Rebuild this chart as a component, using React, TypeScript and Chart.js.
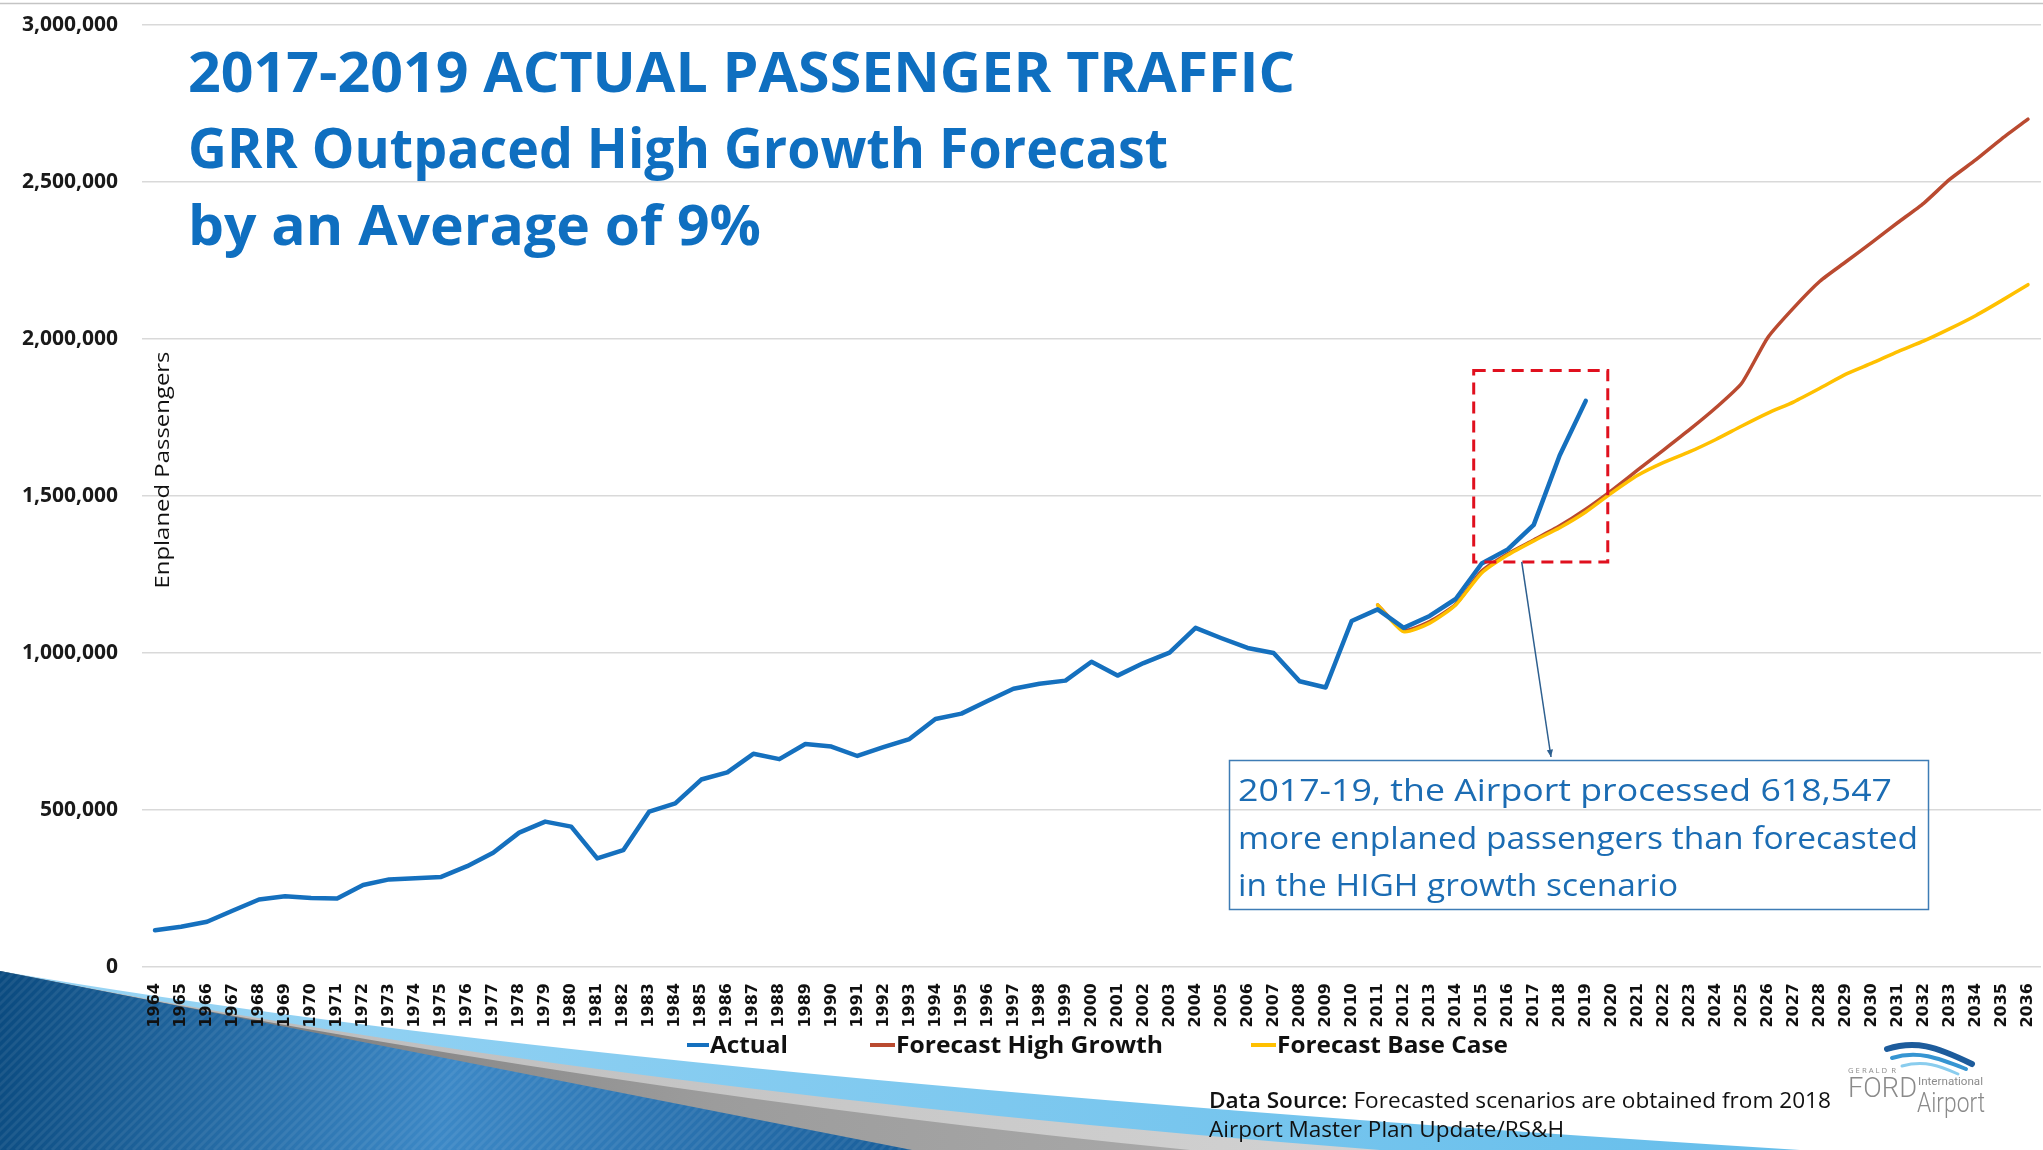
import React, { useEffect, useRef } from 'react';
import { Chart, registerables } from 'chart.js';

Chart.register(...registerables);

const YEARS = [
  '1964','1965','1966','1967','1968','1969','1970','1971','1972','1973',
  '1974','1975','1976','1977','1978','1979','1980','1981','1982','1983',
  '1984','1985','1986','1987','1988','1989','1990','1991','1992','1993',
  '1994','1995','1996','1997','1998','1999','2000','2001','2002','2003',
  '2004','2005','2006','2007','2008','2009','2010','2011','2012','2013',
  '2014','2015','2016','2017','2018','2019','2020','2021','2022','2023',
  '2024','2025','2026','2027','2028','2029','2030','2031','2032','2033',
  '2034','2035','2036',
];

// Actual enplanements 1964-2019
const ACTUAL = [
  117000, 128000, 144000, 180000, 215000, 225000, 220000, 218000, 261000, 279000,
  283000, 287000, 321000, 364000, 428000, 463000, 447000, 346000, 372000, 495000,
  521000, 597000, 620000, 679000, 662000, 710000, 702000, 672000, 700000, 726000,
  790000, 807000, 847000, 886000, 902000, 912000, 972000, 928000, 968000, 1001000,
  1080000, 1047000, 1016000, 1000000, 910000, 890000, 1102000, 1139000, 1080000, 1118000,
  1172000, 1285000, 1330000, 1408000, 1630000, 1803000,
];

const FORECAST_START = '2011';
// Forecast High Growth 2011-2036
const HIGH_GROWTH = [
  1153000, 1073000, 1100000, 1155000, 1261000, 1316000, 1360000, 1405000, 1458000, 1518000,
  1583000, 1647000, 1712000, 1781000, 1860000, 2005000, 2100000, 2184000, 2246000, 2308000,
  2371000, 2433000, 2509000, 2571000, 2638000, 2700000,
];
// Forecast Base Case 2011-2036
const BASE_CASE = [
  1153000, 1068000, 1095000, 1153000, 1255000, 1312000, 1357000, 1399000, 1449000, 1510000,
  1566000, 1607000, 1641000, 1680000, 1723000, 1764000, 1800000, 1843000, 1888000, 1923000,
  1960000, 1994000, 2033000, 2075000, 2123000, 2173000,
];

const Y_MIN = 0;
const Y_MAX = 3000000;
const Y_STEP = 500000;

const SERIES_LABELS = ['Actual', 'Forecast High Growth', 'Forecast Base Case'];
const SERIES_COLORS = ['#1570BE', '#BA4A30', '#FFC000'];

const TITLE_LINES = [
  '2017-2019 ACTUAL PASSENGER TRAFFIC',
  'GRR Outpaced High Growth Forecast',
  'by an Average of 9%',
];
const Y_TITLE = 'Enplaned Passengers';
const NOTE_LINES = [
  '2017-19, the Airport processed 618,547',
  'more enplaned passengers than forecasted',
  'in the HIGH growth scenario',
];
const SOURCE_BOLD = 'Data Source:';
const SOURCE_LINE1 = ' Forecasted scenarios are obtained from 2018';
const SOURCE_LINE2 = 'Airport Master Plan Update/RS&H';
const HIGHLIGHT_FROM = '2015';
const HIGHLIGHT_TO = '2020';
const HIGHLIGHT_TOP = 1900000;
const HIGHLIGHT_BOTTOM = 1290000;

function fitText(
  ctx: CanvasRenderingContext2D,
  text: string,
  x: number,
  y: number,
  width: number,
  font: string,
  color: string
) {
  ctx.save();
  ctx.font = font;
  ctx.fillStyle = color;
  ctx.textAlign = 'left';
  ctx.textBaseline = 'alphabetic';
  const w = ctx.measureText(text).width || 1;
  ctx.translate(x, y);
  ctx.scale(width / w, 1);
  ctx.fillText(text, 0, 0);
  ctx.restore();
}

const decorPlugin = {
  id: 'decor',
  beforeDraw(chart: any) {
    const ctx: CanvasRenderingContext2D = chart.ctx;
    const W = chart.width;
    const H = chart.height;
    ctx.save();
    ctx.fillStyle = '#ffffff';
    ctx.fillRect(0, 0, W, H);
    // slide top rule
    ctx.strokeStyle = '#C4C4C4';
    ctx.lineWidth = 1.5;
    ctx.beginPath();
    ctx.moveTo(0, 3.5);
    ctx.lineTo(W, 3.5);
    ctx.stroke();

    // decorative swoosh bands bottom-left
    const oy = 971;
    const curveBand = (cx: number, cy: number, xb: number, fill: any) => {
      ctx.beginPath();
      ctx.moveTo(0, oy);
      ctx.quadraticCurveTo(cx, cy, xb, H);
      ctx.lineTo(0, H);
      ctx.closePath();
      ctx.fillStyle = fill;
      ctx.fill();
    };
    const lb = ctx.createLinearGradient(0, 0, 1800, 0);
    lb.addColorStop(0, '#9AD5F4');
    lb.addColorStop(1, '#66BEEB');
    curveBand(600, 1075, 1800, lb);
    const lg = ctx.createLinearGradient(0, 0, 1380, 0);
    lg.addColorStop(0, '#B8B8B8');
    lg.addColorStop(1, '#D2D2D2');
    curveBand(600, 1090, 1380, lg);
    const gg = ctx.createLinearGradient(0, 0, 1190, 0);
    gg.addColorStop(0, '#6F6F6F');
    gg.addColorStop(0.6, '#9C9C9C');
    gg.addColorStop(1, '#A8A8A8');
    curveBand(600, 1092, 1190, gg);
    const bg = ctx.createLinearGradient(0, 1000, 900, 1150);
    bg.addColorStop(0, '#0B4B80');
    bg.addColorStop(0.5, '#3C88C6');
    bg.addColorStop(1, '#1A5F9B');
    curveBand(456, 1060, 912, bg);
    // subtle diagonal stripes on dark blue
    ctx.save();
    ctx.beginPath();
    ctx.moveTo(0, oy);
    ctx.quadraticCurveTo(456, 1060, 912, H);
    ctx.lineTo(0, H);
    ctx.closePath();
    ctx.clip();
    ctx.strokeStyle = 'rgba(255,255,255,0.07)';
    ctx.lineWidth = 3;
    for (let s = -200; s < 1100; s += 9) {
      ctx.beginPath();
      ctx.moveTo(s, H);
      ctx.lineTo(s + 200, H - 200);
      ctx.stroke();
    }
    ctx.restore();
    ctx.restore();
  },
  afterDatasetsDraw(chart: any) {
    const ctx: CanvasRenderingContext2D = chart.ctx;
    const xs = chart.scales.x;
    const ys = chart.scales.y;
    const left = xs.getPixelForValue(YEARS.indexOf(HIGHLIGHT_FROM)) - 8;
    const right = xs.getPixelForValue(YEARS.indexOf(HIGHLIGHT_TO)) - 4;
    const top = ys.getPixelForValue(HIGHLIGHT_TOP);
    const bottom = ys.getPixelForValue(HIGHLIGHT_BOTTOM);
    ctx.save();
    ctx.strokeStyle = '#E0101E';
    ctx.lineWidth = 3;
    ctx.setLineDash([12, 7]);
    ctx.strokeRect(left, top, right - left, bottom - top);
    ctx.restore();

    // leader line to note box
    const ax = xs.getPixelForValue(YEARS.indexOf('2016')) + 14;
    const ex = 1551;
    const ey = 757;
    ctx.save();
    ctx.strokeStyle = '#2D5F8F';
    ctx.lineWidth = 1.5;
    ctx.beginPath();
    ctx.moveTo(ax, bottom);
    ctx.lineTo(ex, ey);
    ctx.stroke();
    const ang = Math.atan2(ey - bottom, ex - ax);
    ctx.fillStyle = '#2D5F8F';
    ctx.beginPath();
    ctx.moveTo(ex, ey);
    ctx.lineTo(ex - 8 * Math.cos(ang - 0.4), ey - 8 * Math.sin(ang - 0.4));
    ctx.lineTo(ex - 8 * Math.cos(ang + 0.4), ey - 8 * Math.sin(ang + 0.4));
    ctx.closePath();
    ctx.fill();
    ctx.restore();
  },
  afterDraw(chart: any) {
    const ctx: CanvasRenderingContext2D = chart.ctx;
    // Title
    const titleColor = '#0F6FC0';
    const titleFont = 'bold 56px "Open Sans"';
    fitText(ctx, TITLE_LINES[0], 188, 92, 1107, titleFont, titleColor);
    fitText(ctx, TITLE_LINES[1], 188, 168, 980, titleFont, titleColor);
    fitText(ctx, TITLE_LINES[2], 188, 245, 573, titleFont, titleColor);

    // Y axis title (inside plot)
    ctx.save();
    ctx.translate(163, 470);
    ctx.rotate(-Math.PI / 2);
    ctx.font = '20px "Open Sans"';
    const tw = ctx.measureText(Y_TITLE).width;
    ctx.scale(237 / tw, 1);
    ctx.fillStyle = '#111111';
    ctx.textAlign = 'center';
    ctx.textBaseline = 'middle';
    ctx.fillText(Y_TITLE, 0, 0);
    ctx.restore();

    // Note box
    ctx.save();
    ctx.strokeStyle = '#3E7CB5';
    ctx.lineWidth = 1.5;
    ctx.strokeRect(1229.5, 760.5, 699, 149);
    ctx.restore();
    const noteFont = '31px "Open Sans"';
    const noteColor = '#1B6CB3';
    fitText(ctx, NOTE_LINES[0], 1238, 801, 654, noteFont, noteColor);
    fitText(ctx, NOTE_LINES[1], 1238, 849, 680, noteFont, noteColor);
    fitText(ctx, NOTE_LINES[2], 1238, 896, 440, noteFont, noteColor);

    // Legend
    const legendItems = [
      { m0: 687, m1: 709, t0: 710, tw: 78 },
      { m0: 870, m1: 895, t0: 896, tw: 267 },
      { m0: 1251, m1: 1276, t0: 1277, tw: 231 },
    ];
    legendItems.forEach((it, i) => {
      ctx.save();
      ctx.strokeStyle = SERIES_COLORS[i];
      ctx.lineWidth = 4;
      ctx.beginPath();
      ctx.moveTo(it.m0, 1045);
      ctx.lineTo(it.m1, 1045);
      ctx.stroke();
      ctx.restore();
      fitText(ctx, SERIES_LABELS[i], it.t0, 1053, it.tw, 'bold 23px "Open Sans"', '#111111');
    });

    // Data source
    ctx.save();
    ctx.font = '600 21px "Open Sans"';
    const bw = ctx.measureText(SOURCE_BOLD).width;
    ctx.font = '21px "Open Sans"';
    const rw = ctx.measureText(SOURCE_LINE1).width;
    const sx = 622 / (bw + rw);
    ctx.translate(1209, 1108);
    ctx.scale(sx, 1);
    ctx.fillStyle = '#111111';
    ctx.font = '600 21px "Open Sans"';
    ctx.fillText(SOURCE_BOLD, 0, 0);
    ctx.font = '21px "Open Sans"';
    ctx.fillText(SOURCE_LINE1, bw, 0);
    ctx.restore();
    fitText(ctx, SOURCE_LINE2, 1209, 1137, 355, '21px "Open Sans"', '#111111');

    // Logo
    ctx.save();
    const wave = (x0: number, y0: number, c1x: number, c1y: number, c2x: number, c2y: number, x1: number, y1: number, w: number, c: string) => {
      ctx.strokeStyle = c;
      ctx.lineWidth = w;
      ctx.lineCap = 'round';
      ctx.beginPath();
      ctx.moveTo(x0, y0);
      ctx.bezierCurveTo(c1x, c1y, c2x, c2y, x1, y1);
      ctx.stroke();
    };
    wave(1887, 1049, 1915, 1040, 1935, 1046, 1972, 1064, 6, '#1D5C9C');
    wave(1892, 1058, 1918, 1050, 1938, 1058, 1966, 1069, 4, '#3695D2');
    wave(1902, 1066, 1925, 1060, 1940, 1066, 1958, 1074, 3, '#8ACDEE');
    ctx.restore();
    fitText(ctx, 'G E R A L D  R', 1848, 1073, 48, '8px "Open Sans"', '#8C8C8C');
    fitText(ctx, 'FORD', 1848, 1097, 69, '300 27px "Roboto"', '#8A8A8A');
    fitText(ctx, 'International', 1918, 1085, 65, '10px "Roboto"', '#8C8C8C');
    fitText(ctx, 'Airport', 1917, 1112, 68, '300 27px "Roboto"', '#8A8A8A');
  },
};

export default function App() {
  const ref = useRef<HTMLCanvasElement | null>(null);

  useEffect(() => {
    if (!ref.current) return;
    const fStart = YEARS.indexOf(FORECAST_START);
    const actualData = YEARS.map((_, i) => (i < ACTUAL.length ? ACTUAL[i] : null));
    const highData = YEARS.map((_, i) => (i >= fStart ? HIGH_GROWTH[i - fStart] : null));
    const baseData = YEARS.map((_, i) => (i >= fStart ? BASE_CASE[i - fStart] : null));

    const chart = new Chart(ref.current, {
      type: 'line',
      data: {
        labels: YEARS,
        datasets: [
          {
            label: SERIES_LABELS[0],
            data: actualData,
            borderColor: SERIES_COLORS[0],
            borderWidth: 4.5,
            tension: 0,
            order: 0,
          },
          {
            label: SERIES_LABELS[1],
            data: highData,
            borderColor: SERIES_COLORS[1],
            borderWidth: 3.5,
            tension: 0.2,
            order: 2,
          },
          {
            label: SERIES_LABELS[2],
            data: baseData,
            borderColor: SERIES_COLORS[2],
            borderWidth: 3.5,
            tension: 0.2,
            order: 1,
          },
        ],
      },
      options: {
        animation: false,
        responsive: false,
        devicePixelRatio: 1,
        layout: { padding: { top: 25, right: 2, left: 0, bottom: 0 } },
        elements: {
          point: { radius: 0, hoverRadius: 0 },
          line: { borderCapStyle: 'round', borderJoinStyle: 'round', fill: false },
        },
        plugins: {
          legend: { display: false },
          tooltip: { enabled: false },
          title: { display: false },
        },
        scales: {
          x: {
            type: 'category',
            offset: true,
            grid: { display: false, drawTicks: false },
            border: { display: false },
            ticks: {
              autoSkip: false,
              maxRotation: 90,
              minRotation: 90,
              padding: 16,
              color: '#111111',
              font: { family: '"DejaVu Sans"', weight: 'bold', size: 16 },
            },
            afterFit: (s: any) => {
              s.height = 183;
              s.paddingLeft = 0;
              s.paddingRight = 0;
            },
          },
          y: {
            min: Y_MIN,
            max: Y_MAX,
            ticks: {
              stepSize: Y_STEP,
              padding: 24,
              color: '#1A1A1A',
              font: { family: '"Open Sans"', weight: 'bold', size: 21 },
              callback: (v: any) => Number(v).toLocaleString('en-US'),
            },
            grid: { color: '#D9D9D9', lineWidth: 1.5, drawTicks: false },
            border: { display: false },
            afterFit: (s: any) => {
              s.width = 142;
              s.paddingTop = 0;
              s.paddingBottom = 0;
            },
          },
        },
      },
      plugins: [decorPlugin],
    } as any);

    return () => chart.destroy();
  }, []);

  return (
    <div style={{ position: 'absolute', left: 0, top: 0, width: 2043, height: 1150, background: '#fff' }}>
      <canvas ref={ref} width={2043} height={1150} style={{ display: 'block', width: 2043, height: 1150 }} />
    </div>
  );
}
